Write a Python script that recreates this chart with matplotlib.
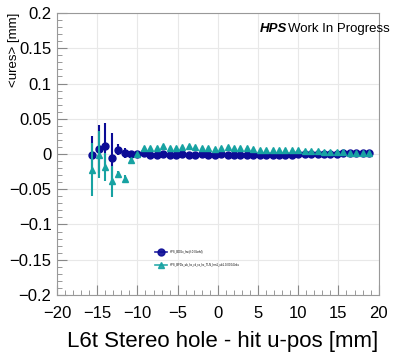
import matplotlib
matplotlib.use("Agg")
import matplotlib.pyplot as plt
from matplotlib.lines import Line2D
from matplotlib.ticker import MultipleLocator

plt.rcParams['font.family'] = ['Liberation Sans', 'DejaVu Sans']

# Data: bin centres (mm) and mean residuals (mm) for the two samples
u_pos = [-15.6, -14.8, -14.0, -13.2, -12.4, -11.6, -10.8, -10.0, -9.2, -8.4, -7.6,
         -6.8, -6.0, -5.2, -4.4, -3.6, -2.8, -2.0, -1.2, -0.4, 0.4, 1.2, 2.0, 2.8,
         3.6, 4.4, 5.2, 6.0, 6.8, 7.6, 8.4, 9.2, 10.0, 10.8, 11.6, 12.4, 13.2, 14.0,
         14.8, 15.6, 16.4, 17.2, 18.0, 18.8]

res_a = [-0.002, 0.007, 0.011, -0.006, 0.006, 0.002, 0.000, 0.000, 0.002, -0.001, -0.001,
         0.000, -0.001, -0.001, 0.000, -0.001, -0.001, 0.000, -0.001, -0.001, 0.000, -0.001,
         -0.001, -0.001, -0.001, -0.001, -0.001, -0.001, -0.001, -0.001, -0.001, -0.001,
         0.000, 0.000, 0.000, 0.000, 0.000, 0.000, 0.000, 0.001, 0.001, 0.001, 0.001, 0.001]
err_a = [0.027, 0.034, 0.033, 0.036, 0.008, 0.007, 0.003, 0.002] + [0.001] * 36

res_b = [-0.022, -0.001, -0.019, -0.039, -0.029, -0.035, -0.009, 0.000, 0.008, 0.008, 0.008,
         0.012, 0.009, 0.008, 0.010, 0.011, 0.010, 0.009, 0.009, 0.007, 0.009, 0.010,
         0.009, 0.008, 0.008, 0.007, 0.006, 0.006, 0.006, 0.006, 0.005, 0.005, 0.005,
         0.004, 0.004, 0.004, 0.003, 0.003, 0.003, 0.003, 0.002, 0.002, 0.002, 0.002]
err_b = [0.038, 0.033, 0.020, 0.022, 0.005, 0.005, 0.003, 0.002] + [0.001] * 36

label_a = "HPS_BDGx_hw(rl.0.0.bnbl)"
label_b = "HPS_BFDx_ub_hc_rd_ra_hc_TLN_hm1_ub1.0.0004.hbs"

col_a = '#0c0c96'
col_b = '#17a2a2'

fig = plt.figure(figsize=(3.99, 3.52), dpi=100)
ax = fig.add_axes([0.143, 0.162, 0.806, 0.801])

ax.errorbar(u_pos, res_a, yerr=err_a, fmt='o', color=col_a, ms=5,
            elinewidth=1.5, capsize=0, zorder=2)
ax.errorbar(u_pos, res_b, yerr=err_b, fmt='^', color=col_b, ms=5,
            elinewidth=1.5, capsize=0, zorder=3)

ax.set_xlim(-20, 20)
ax.set_ylim(-0.2, 0.2)
ax.xaxis.set_major_locator(MultipleLocator(5))
ax.xaxis.set_minor_locator(MultipleLocator(1))
ax.yaxis.set_major_locator(MultipleLocator(0.05))
ax.yaxis.set_minor_locator(MultipleLocator(0.01))
ax.yaxis.set_major_formatter(plt.FuncFormatter(lambda v, p: ('%g' % round(v, 2)).replace('-', '\u2212')))
ax.xaxis.set_major_formatter(plt.FuncFormatter(lambda v, p: ('%g' % v).replace('-', '\u2212')))
ax.tick_params(which='both', direction='in', colors='#888888', labelcolor='black', labelsize=12,
               top=False, right=False)
ax.tick_params(axis='x', which='both', pad=8)
ax.tick_params(axis='y', which='both', pad=4)
ax.tick_params(which='major', length=7)
ax.tick_params(which='minor', length=3.5)
ax.grid(True, which='major', color='#e8e8e8', lw=0.8)
ax.set_axisbelow(True)
for s in ax.spines.values():
    s.set_color('#999999')

ax.set_xlabel("L6t Stereo hole - hit u-pos [mm]", fontsize=16, loc='right', labelpad=7)
ax.set_ylabel("<ures> [mm]", fontsize=9.5, loc='top')
ax.yaxis.set_label_coords(-0.115, 1.0)

fig.text(0.652, 0.908, "HPS", fontsize=9.5, fontweight='bold', style='italic')
fig.text(0.722, 0.908, "Work In Progress", fontsize=9.5)

handles = [Line2D([], [], color=col_a, marker='o', ms=5, lw=1.2, alpha=0.9),
           Line2D([], [], color=col_b, marker='^', ms=5, lw=1.2, alpha=0.9)]
ax.legend(handles, [label_a, label_b], loc='upper left', bbox_to_anchor=(0.3, 0.165),
          frameon=False, fontsize=2, handlelength=4.5, labelspacing=3.3, borderaxespad=0)

fig.savefig("out.png", dpi=100)
